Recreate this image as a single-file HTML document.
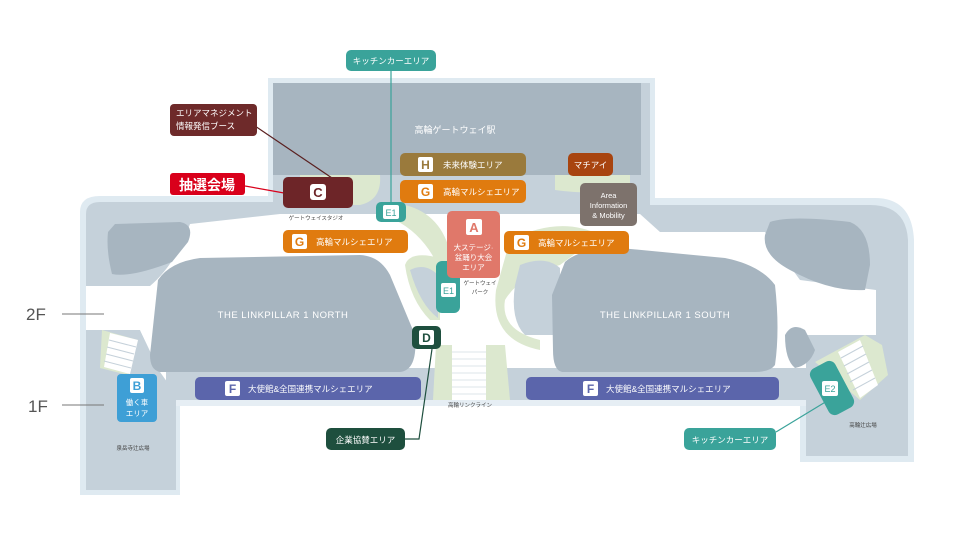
<!DOCTYPE html>
<html><head><meta charset="utf-8"><style>
html,body{margin:0;padding:0;background:#fff;width:960px;height:546px;overflow:hidden}
svg{display:block}
text{font-family:"Liberation Sans","Noto Sans CJK JP",sans-serif}
</style></head><body>
<svg width="960" height="546" viewBox="0 0 960 546" xmlns="http://www.w3.org/2000/svg">
<!-- frames -->
<path d="M268,78 H655 V198 H875 Q912,198 914,240 V462 H800 V400 H180 V495 H80 V212 Q80,196 100,196 H268 Z" fill="#dfeaf1"/>
<path d="M273,83 H650 V205 H870 Q906,205 908,240 V456 H806 V395 H176 V490 H86 V214 Q86,202 100,202 H273 Z" fill="#c5d1da"/>
<!-- walkways white -->
<path d="M190,224 L280,214 H640 L660,232 H765 L800,280 L876,290 V335 H806 V372 H176 L160,372 L140,330 H86 V286 H150 Q175,265 190,224 Z" fill="#fff"/>
<path d="M140,330 L160,372 L180,400 L176,372 Z" fill="#fff"/>
<!-- 1F band -->
<rect x="166" y="368" width="640" height="34" fill="#c5d1da"/>
<rect x="176" y="400" width="630" height="6" fill="#e6eef4"/>
<!-- station -->
<rect x="273" y="83" width="368" height="92" fill="#a7b5c0"/>
<!-- greens -->
<path d="M300,175 H380 Q382,200 360,205 H300 Z" fill="#dce8cf"/>
<path d="M405,205 Q445,215 452,262 L440,270 Q425,235 395,220 Z" fill="#dce8cf"/>
<path d="M555,175 H630 V190 Q590,195 555,190 Z" fill="#dce8cf"/>
<path d="M510,240 Q560,215 600,235 L560,265 Q520,275 505,300 Q500,330 540,340 L540,350 Q490,340 496,290 Z" fill="#dce8cf"/>
<path d="M405,265 Q410,250 440,258 V320 H430 Q410,300 405,265 Z" fill="#dce8cf"/>
<path d="M520,265 Q545,255 560,268 V335 H525 Q510,320 515,285 Z" fill="#c5d1da"/>
<path d="M410,270 Q425,262 438,275 V318 Q420,305 410,270 Z" fill="#c5d1da"/>
<!-- buildings -->
<path d="M158,280 Q170,262 200,258 L360,255 Q380,256 390,275 L415,335 Q418,370 400,372 H160 Q150,370 150,355 Z" fill="#a7b5c0"/>
<path d="M565,262 Q580,248 620,248 L725,258 Q760,265 775,285 Q780,330 775,365 Q770,372 755,372 H562 Q553,370 553,350 L552,295 Z" fill="#a7b5c0"/>
<path d="M115,224 L180,222 Q195,225 188,242 L172,262 Q130,278 112,274 Q106,250 108,232 Z" fill="#a7b5c0"/>
<path d="M770,222 Q790,215 850,222 Q870,230 870,265 L865,290 Q830,292 790,270 Q762,255 765,235 Z" fill="#a7b5c0"/>
<path d="M785,335 Q792,322 805,330 L815,350 Q810,365 795,368 Q785,360 785,335 Z" fill="#a7b5c0"/>
<!-- stairs -->
<path d="M102,330 L138,340 L128,375 L100,368 Z" fill="#dce8cf"/>
<path d="M110,333 L138,340 L130,374 L104,367 Z" fill="#fff"/>
<g stroke="#c5d1da" stroke-width="1"><line x1="109" y1="340" x2="136" y2="347"/><line x1="107" y1="347" x2="134" y2="354"/><line x1="106" y1="354" x2="133" y2="361"/><line x1="104" y1="361" x2="131" y2="368"/></g>
<path d="M436,345 L455,345 L462,400 L433,400 Z M484,345 L505,345 L510,400 L480,400 Z" fill="#dce8cf"/>
<rect x="452" y="345" width="34" height="55" fill="#fff"/>
<g stroke="#dde4ea" stroke-width="1"><line x1="452" y1="352" x2="486" y2="352"/><line x1="452" y1="359" x2="486" y2="359"/><line x1="452" y1="366" x2="486" y2="366"/><line x1="452" y1="373" x2="486" y2="373"/><line x1="452" y1="380" x2="486" y2="380"/><line x1="452" y1="387" x2="486" y2="387"/><line x1="452" y1="394" x2="486" y2="394"/></g>
<path d="M815,362 L865,335 L882,345 L888,375 L860,400 Z" fill="#dce8cf"/>
<path d="M838,352 L860,340 L878,385 L860,398 Z" fill="#fff"/>
<g stroke="#c5d1da"><line x1="841" y1="358" x2="863" y2="346"/><line x1="844" y1="366" x2="866" y2="354"/><line x1="847" y1="374" x2="869" y2="362"/><line x1="850" y1="382" x2="872" y2="370"/><line x1="853" y1="390" x2="875" y2="378"/></g>
<!-- floor labels -->
<text x="26" y="320" font-size="17" fill="#555">2F</text>
<line x1="62" y1="314" x2="104" y2="314" stroke="#777"/>
<text x="28" y="412" font-size="17" fill="#555">1F</text>
<line x1="62" y1="405" x2="104" y2="405" stroke="#777"/>
<!-- map text -->
<text x="455" y="133" font-size="9" fill="#fff" text-anchor="middle">高輪ゲートウェイ駅</text>
<text x="283" y="318" font-size="9.5" fill="#fff" text-anchor="middle" letter-spacing=".5">THE LINKPILLAR 1 NORTH</text>
<text x="665" y="318" font-size="9.5" fill="#fff" text-anchor="middle" letter-spacing=".5">THE LINKPILLAR 1 SOUTH</text>
<text x="316" y="220" font-size="5.5" fill="#444" text-anchor="middle">ゲートウェイスタジオ</text>
<text x="480" y="285" font-size="5.5" fill="#444" text-anchor="middle">ゲートウェイ</text>
<text x="480" y="294" font-size="5.5" fill="#444" text-anchor="middle">パーク</text>
<text x="470" y="407" font-size="5.5" fill="#444" text-anchor="middle">高輪リンクライン</text>
<text x="133" y="450" font-size="5.5" fill="#444" text-anchor="middle">泉岳寺辻広場</text>
<text x="863" y="427" font-size="5.5" fill="#444" text-anchor="middle">高輪辻広場</text>
<!-- connectors -->
<line x1="391" y1="70" x2="391" y2="203" stroke="#3aa39a" stroke-width="1.2"/>
<line x1="255" y1="126" x2="332" y2="178" stroke="#5a2020" stroke-width="1.2"/>
<line x1="245" y1="186" x2="284" y2="193" stroke="#d9001b" stroke-width="1.2"/>
<polyline points="432,349 419,439 405,439" fill="none" stroke="#1e4f3e" stroke-width="1.2"/>
<line x1="776" y1="432" x2="832" y2="398" stroke="#3aa39a" stroke-width="1.2"/>
<!-- boxes -->
<g font-size="8.5" fill="#fff">
<rect x="346" y="50" width="90" height="21" rx="5" fill="#3aa39a"/><text x="391" y="64" text-anchor="middle" fill="#fff">キッチンカーエリア</text>
<rect x="170" y="104" width="87" height="32" rx="4" fill="#6e2a2a"/><text x="176" y="116" fill="#fff">エリアマネジメント</text><text x="176" y="129" fill="#fff">情報発信ブース</text>
<rect x="170" y="173" width="75" height="22" rx="3" fill="#d9001b"/><text x="207" y="190" font-size="14" font-weight="bold" text-anchor="middle" fill="#fff">抽選会場</text>
<rect x="283" y="177" width="70" height="31" rx="5" fill="#6d2528"/><rect x="310" y="184" width="16" height="16" rx="3" fill="#fff"/><text x="318" y="197" font-size="13" text-anchor="middle" fill="#6d2528" font-weight="bold">C</text>
<rect x="376" y="202" width="30" height="20" rx="5" fill="#3aa39a"/><rect x="383" y="205" width="16" height="14" rx="2" fill="#fff"/><text x="391" y="216" font-size="9" text-anchor="middle" fill="#3aa39a">E1</text>
<rect x="400" y="153" width="126" height="23" rx="5" fill="#9a7a3c"/><rect x="418" y="157" width="15" height="15" rx="2" fill="#fff"/><text x="425.5" y="169" font-size="12" text-anchor="middle" fill="#9a7a3c" font-weight="bold">H</text><text x="443" y="168" fill="#fff">未来体験エリア</text>
<rect x="400" y="180" width="126" height="23" rx="5" fill="#e07b0f"/><rect x="418" y="184" width="15" height="15" rx="2" fill="#fff"/><text x="425.5" y="196" font-size="12" text-anchor="middle" fill="#e07b0f" font-weight="bold">G</text><text x="443" y="195" fill="#fff">高輪マルシェエリア</text>
<rect x="283" y="230" width="125" height="23" rx="5" fill="#e07b0f"/><rect x="292" y="234" width="15" height="15" rx="2" fill="#fff"/><text x="299.5" y="246" font-size="12" text-anchor="middle" fill="#e07b0f" font-weight="bold">G</text><text x="316" y="245" fill="#fff">高輪マルシェエリア</text>
<rect x="504" y="231" width="125" height="23" rx="5" fill="#e07b0f"/><rect x="514" y="235" width="15" height="15" rx="2" fill="#fff"/><text x="521.5" y="247" font-size="12" text-anchor="middle" fill="#e07b0f" font-weight="bold">G</text><text x="538" y="246" fill="#fff">高輪マルシェエリア</text>
<rect x="436" y="261" width="24" height="52" rx="6" fill="#3aa39a"/><rect x="441" y="283" width="15" height="14" rx="2" fill="#fff"/><text x="448.5" y="294" font-size="9" text-anchor="middle" fill="#3aa39a">E1</text>
<rect x="447" y="211" width="53" height="67" rx="5" fill="#e0786a"/><rect x="466" y="219" width="16" height="16" rx="2" fill="#fff"/><text x="474" y="232" font-size="13" text-anchor="middle" fill="#e0786a" font-weight="bold">A</text>
<text x="473.5" y="250" font-size="7.5" text-anchor="middle" fill="#fff">大ステージ·</text><text x="473.5" y="260" font-size="7.5" text-anchor="middle" fill="#fff">盆踊り大会</text><text x="473.5" y="270" font-size="7.5" text-anchor="middle" fill="#fff">エリア</text>
<rect x="568" y="153" width="45" height="23" rx="5" fill="#a8440f"/><text x="590.5" y="168" text-anchor="middle" fill="#fff">マチアイ</text>
<rect x="580" y="183" width="57" height="43" rx="5" fill="#7d726c"/><text x="608.5" y="198" font-size="7.5" text-anchor="middle" fill="#fff">Area</text><text x="608.5" y="208" font-size="7.5" text-anchor="middle" fill="#fff">Information</text><text x="608.5" y="218" font-size="7.5" text-anchor="middle" fill="#fff">&amp; Mobility</text>
<rect x="412" y="326" width="29" height="23" rx="5" fill="#1e4f3e"/><rect x="419" y="330" width="15" height="15" rx="2" fill="#fff"/><text x="426.5" y="342" font-size="12" text-anchor="middle" fill="#1e4f3e" font-weight="bold">D</text>
<rect x="195" y="377" width="226" height="23" rx="5" fill="#5b65ab"/><rect x="225" y="381" width="15" height="15" rx="2" fill="#fff"/><text x="232.5" y="393" font-size="12" text-anchor="middle" fill="#5b65ab" font-weight="bold">F</text><text x="248" y="392" fill="#fff">大使館&amp;全国連携マルシェエリア</text>
<rect x="526" y="377" width="253" height="23" rx="5" fill="#5b65ab"/><rect x="583" y="381" width="15" height="15" rx="2" fill="#fff"/><text x="590.5" y="393" font-size="12" text-anchor="middle" fill="#5b65ab" font-weight="bold">F</text><text x="606" y="392" fill="#fff">大使館&amp;全国連携マルシェエリア</text>
<rect x="117" y="374" width="40" height="48" rx="4" fill="#3e9fd6"/><rect x="130" y="378" width="14" height="15" rx="2" fill="#fff"/><text x="137" y="390" font-size="12" text-anchor="middle" fill="#3e9fd6" font-weight="bold">B</text><text x="137" y="405" font-size="7.5" text-anchor="middle" fill="#fff">働く車</text><text x="137" y="416" font-size="7.5" text-anchor="middle" fill="#fff">エリア</text>
<rect x="326" y="428" width="79" height="22" rx="5" fill="#1e4f3e"/><text x="365.5" y="443" text-anchor="middle" fill="#fff">企業協賛エリア</text>
<rect x="684" y="428" width="92" height="22" rx="5" fill="#3aa39a"/><text x="730" y="443" text-anchor="middle" fill="#fff">キッチンカーエリア</text>
<g transform="rotate(-28 832 388)"><rect x="818" y="362" width="28" height="52" rx="7" fill="#3aa39a"/></g><rect x="822" y="381" width="16" height="15" rx="2" fill="#fff"/><text x="830" y="392" font-size="9" text-anchor="middle" fill="#3aa39a">E2</text>
</g>
</svg>
</body></html>
